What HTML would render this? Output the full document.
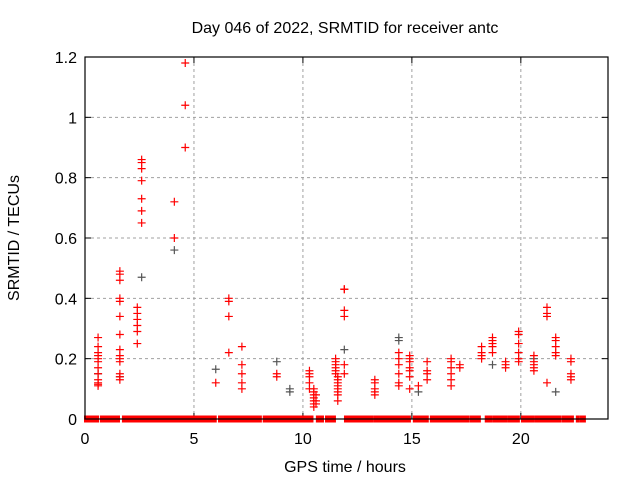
<!DOCTYPE html>
<html><head><meta charset="utf-8"><style>
html,body{margin:0;padding:0;background:#fff;}
svg{display:block;font-family:"Liberation Sans",sans-serif;}
</style></head><body>
<svg id="chart" width="640" height="480"></svg>
<script>
const xTicks=[0,5,10,15,20];
const yTicks=[0,0.2,0.4,0.6,0.8,1,1.2];
const yTickLabels=["0","0.2","0.4","0.6","0.8","1","1.2"];
const zeroSegments=[[0,0.6],[0.73,1.56],[1.74,2.29],[2.34,2.84],[2.89,3.26],[3.3,3.53],[3.58,5.37],[5.41,5.6],[5.69,6.0],[6.15,6.28],[6.33,7.2],[7.25,8.07],[8.2,8.72],[8.76,9.63],[9.68,10.28],[10.37,10.41],[10.64,10.92],[11.06,11.47],[11.93,12.71],[12.75,13.21],[13.3,14.54],[14.59,14.91],[15.09,15.46],[15.5,15.73],[15.87,16.88],[16.93,17.29],[17.34,17.61],[17.71,18.12],[18.39,18.67],[18.76,19.08],[19.13,19.36],[19.45,19.91],[20.05,20.6],[20.69,21.83],[21.93,22.06],[22.11,22.39],[22.57,22.66],[22.75,22.94]];
const redHours=[0.6,0.6,0.6,0.6,0.6,0.6,0.6,0.6,0.6,0.6,0.6,0.6,
1.6,1.6,1.6,1.6,1.6,1.6,1.6,1.6,1.6,1.6,1.6,1.6,1.6,1.6,
2.4,2.4,2.4,2.4,2.4,2.4,2.6,2.6,2.6,2.6,2.6,2.6,2.6,
4.1,4.1,4.6,4.6,4.6,6.0,6.6,6.6,6.6,6.6,7.2,7.2,7.2,7.2,7.2,8.8,8.8,
10.3,10.3,10.3,10.3,10.3,10.5,10.5,10.5,10.5,10.5,10.5,10.5,10.6,10.6,10.6,
11.5,11.5,11.5,11.5,11.5,11.5,11.6,11.6,11.6,11.6,11.6,11.6,11.6,11.6,
11.9,11.9,11.9,11.9,11.9,11.9,
13.3,13.3,13.3,13.3,13.3,14.4,14.4,14.4,14.4,14.4,14.4,
14.9,14.9,14.9,14.9,14.9,14.9,14.9,15.3,15.7,15.7,15.7,15.7,
16.8,16.8,16.8,16.8,16.8,16.8,17.2,17.2,18.2,18.2,18.2,18.2,
18.7,18.7,18.7,18.7,18.7,19.3,19.3,19.3,19.9,19.9,19.9,19.9,19.9,19.9,
20.6,20.6,20.6,20.6,20.6,21.2,21.2,21.2,21.2,21.6,21.6,21.6,21.6,21.6,
22.3,22.3,22.3,22.3,22.3];
const redValues=[0.27,0.24,0.22,0.21,0.2,0.19,0.17,0.15,0.13,0.12,0.115,0.11,
0.49,0.48,0.46,0.4,0.39,0.34,0.28,0.23,0.21,0.2,0.19,0.15,0.14,0.13,
0.37,0.35,0.33,0.31,0.29,0.25,0.86,0.85,0.83,0.79,0.73,0.69,0.65,
0.72,0.6,1.18,1.04,0.9,0.12,0.4,0.39,0.34,0.22,0.24,0.18,0.15,0.12,0.1,0.15,0.14,
0.16,0.15,0.14,0.12,0.1,0.1,0.09,0.08,0.07,0.06,0.05,0.04,0.08,0.06,0.05,
0.2,0.19,0.18,0.17,0.16,0.15,0.14,0.13,0.12,0.11,0.1,0.09,0.08,0.06,
0.43,0.43,0.36,0.34,0.18,0.15,
0.13,0.12,0.1,0.09,0.08,0.22,0.2,0.18,0.15,0.12,0.11,
0.21,0.2,0.19,0.17,0.16,0.14,0.1,0.11,0.19,0.16,0.15,0.13,
0.2,0.19,0.17,0.15,0.13,0.11,0.18,0.17,0.24,0.22,0.21,0.2,
0.27,0.26,0.25,0.24,0.22,0.19,0.18,0.17,0.29,0.28,0.25,0.22,0.2,0.19,
0.21,0.19,0.18,0.17,0.16,0.37,0.35,0.34,0.12,0.27,0.26,0.24,0.22,0.21,
0.2,0.19,0.15,0.14,0.13];
const greyHours=[0.6,1.6,2.6,4.1,6.0,8.8,9.4,9.4,11.9,14.4,14.4,15.3,18.7,21.6,20.6];
const greyValues=[0.15,0.14,0.47,0.56,0.165,0.19,0.1,0.09,0.23,0.27,0.26,0.09,0.18,0.09,0.2];

const L=85,R=608,T=57,B=419;
const xS=h=>L+h*(R-L)/24;
const yS=v=>B-v*(B-T)/1.2;
const NS="http://www.w3.org/2000/svg";
const svg=document.getElementById('chart');
function mk(tag,attrs,parent){const e=document.createElementNS(NS,tag);for(const k in attrs)e.setAttribute(k,attrs[k]);(parent||svg).appendChild(e);return e;}

const grid=mk('g',{});


xTicks.forEach(t=>{if(t>0)mk('line',{x1:xS(t),x2:xS(t),y1:T,y2:B,stroke:'#a0a0a0','stroke-dasharray':'3,3'},grid);});
yTicks.forEach(t=>{if(t>0&&t<1.2)mk('line',{x1:L,x2:R,y1:yS(t),y2:yS(t),stroke:'#a0a0a0','stroke-dasharray':'3,3'},grid);});

const xa=mk('g',{});


xTicks.forEach(t=>{
  mk('line',{x1:xS(t),x2:xS(t),y1:B,y2:B-6,stroke:'#000'},xa);
  mk('line',{x1:xS(t),x2:xS(t),y1:T,y2:T+6,stroke:'#000'},xa);
  const tx=mk('text',{x:xS(t),y:B+25,'text-anchor':'middle','font-size':'16'},xa);tx.textContent=t;
});
const ya=mk('g',{});


yTicks.forEach((t,i)=>{
  mk('line',{x1:L,x2:L+6,y1:yS(t),y2:yS(t),stroke:'#000'},ya);
  mk('line',{x1:R,x2:R-6,y1:yS(t),y2:yS(t),stroke:'#000'},ya);
  const tx=mk('text',{x:L-8,y:yS(t)+6,'text-anchor':'end','font-size':'16'},ya);tx.textContent=yTickLabels[i];
});

const zb=mk('g',{});


zeroSegments.forEach(s=>{
  mk('rect',{x:xS(s[0])-1,y:yS(0)-3.5,width:Math.max(1.5,xS(s[1])-xS(s[0]))+2,height:7,fill:'#ff0000'},zb);
});

function plus(g,h,v,col){
  const x=xS(h),y=yS(v);
  mk('path',{d:`M${x-4},${y}H${x+4}M${x},${y-4}V${y+4}`,stroke:col,'stroke-width':'1.2',fill:'none'},g);
}
const gg=mk('g',{});


greyHours.forEach((h,i)=>plus(gg,h,greyValues[i],'#555'));
const rg=mk('g',{});


redHours.forEach((h,i)=>plus(rg,h,redValues[i],'#ff0000'));

const fr=mk('rect',{x:L,y:T,width:R-L,height:B-T,fill:'none',stroke:'#000','stroke-width':'1.2'});



const title=mk('text',{x:345,y:33,'text-anchor':'middle','font-size':'16'});
title.textContent='Day 046 of 2022, SRMTID for receiver antc';


const xt=mk('text',{x:345,y:472,'text-anchor':'middle','font-size':'16'});
xt.textContent='GPS time / hours';


const yt=mk('text',{x:0,y:0,'text-anchor':'middle','font-size':'16',transform:'translate(19,238) rotate(-90)'});
yt.textContent='SRMTID / TECUs';


</script>
</body></html>
